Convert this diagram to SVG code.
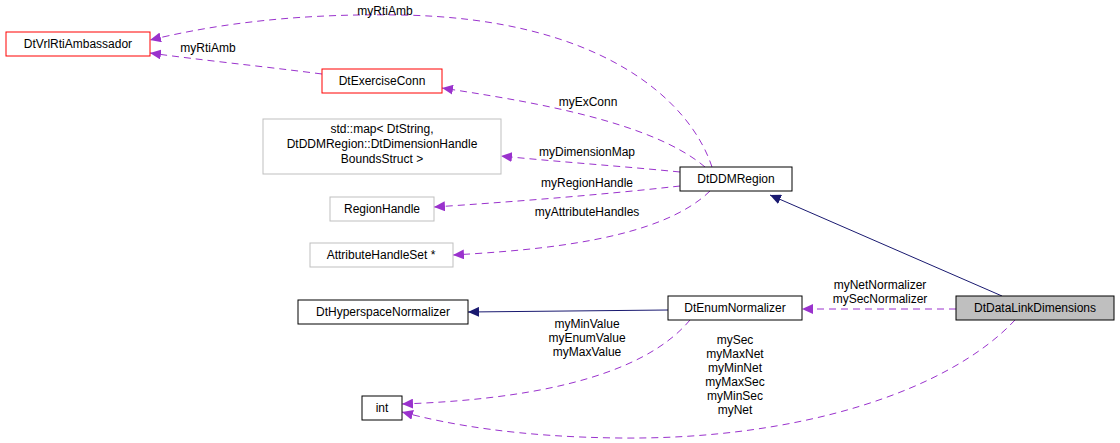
<svg xmlns="http://www.w3.org/2000/svg" width="1120" height="443" viewBox="0 0 1120 443">
<style>
text{font-family:"Liberation Sans",Arial,sans-serif;font-size:12px;fill:#000}
.n{fill:#fff;stroke:#000;stroke-width:1}
.r{fill:#fff;stroke:#f00;stroke-width:1}
.g{fill:#fff;stroke:#bfbfbf;stroke-width:1}
.d{fill:none;stroke:#9a32cd;stroke-width:1;stroke-dasharray:7,5}
.s{fill:none;stroke:#191970;stroke-width:1}
</style>
<defs>
<marker id="pa" markerWidth="12" markerHeight="10" refX="11" refY="5" orient="auto" markerUnits="userSpaceOnUse"><path d="M0,0 L11,5 L0,10 z" fill="#9a32cd"/></marker>
<marker id="na" markerWidth="12" markerHeight="10" refX="11" refY="5" orient="auto" markerUnits="userSpaceOnUse"><path d="M0,0 L11,5 L0,10 z" fill="#191970"/></marker>
</defs>
<rect width="1120" height="443" fill="#fff"/>
<g id="connectors">
<path class="s" d="M1002,296 L770,195" marker-end="url(#na)"/>
<path class="s" d="M668,310 L468,312" marker-end="url(#na)"/>
<path class="d" d="M712,167 C690,100 600,18 400,15 C280,13 200,28 150,40" marker-end="url(#pa)"/>
<path class="d" d="M322,74 C260,66 200,60 150,53" marker-end="url(#pa)"/>
<path class="d" d="M705,167 C650,120 520,100 442,88" marker-end="url(#pa)"/>
<path class="d" d="M680,172 C620,166 560,162 501,156" marker-end="url(#pa)"/>
<path class="d" d="M680,186 C600,195 510,202 434,207" marker-end="url(#pa)"/>
<path class="d" d="M710,191 C660,240 540,250 453,255" marker-end="url(#pa)"/>
<path class="d" d="M956,309 L802,309" marker-end="url(#pa)"/>
<path class="d" d="M690,320 C640,380 520,400 402,404" marker-end="url(#pa)"/>
<path class="d" d="M1015,320 C950,390 800,440 620,438 C520,437 450,425 402,412" marker-end="url(#pa)"/>
<text x="385" y="15" text-anchor="middle">myRtiAmb</text>
<text x="208" y="52" text-anchor="middle">myRtiAmb</text>
<text x="588" y="106" text-anchor="middle">myExConn</text>
<text x="587" y="156" text-anchor="middle">myDimensionMap</text>
<text x="587" y="187" text-anchor="middle">myRegionHandle</text>
<text x="587" y="216" text-anchor="middle">myAttributeHandles</text>
<text x="880" y="289" text-anchor="middle">myNetNormalizer</text>
<text x="880" y="303" text-anchor="middle">mySecNormalizer</text>
<text x="587" y="328" text-anchor="middle">myMinValue</text>
<text x="587" y="342" text-anchor="middle">myEnumValue</text>
<text x="587" y="356" text-anchor="middle">myMaxValue</text>
<text x="735" y="344" text-anchor="middle">mySec</text>
<text x="735" y="358" text-anchor="middle">myMaxNet</text>
<text x="735" y="372" text-anchor="middle">myMinNet</text>
<text x="735" y="386" text-anchor="middle">myMaxSec</text>
<text x="735" y="400" text-anchor="middle">myMinSec</text>
<text x="735" y="414" text-anchor="middle">myNet</text>
</g>
<g id="DtVrlRtiAmbassador"><rect class="r" x="6" y="32" width="144" height="24"/><text x="78" y="48" text-anchor="middle">DtVrlRtiAmbassador</text></g>
<g id="DtExerciseConn"><rect class="r" x="322" y="69" width="120" height="24"/><text x="382" y="85" text-anchor="middle">DtExerciseConn</text></g>
<g id="StdMap"><rect class="g" x="263" y="119" width="238" height="55"/><text x="382" y="133" text-anchor="middle">std::map&lt; DtString,</text><text x="382" y="148" text-anchor="middle">DtDDMRegion::DtDimensionHandle</text><text x="382" y="163" text-anchor="middle">BoundsStruct &gt;</text></g>
<g id="RegionHandle"><rect class="g" x="330" y="197" width="104" height="24"/><text x="382" y="213" text-anchor="middle">RegionHandle</text></g>
<g id="AttributeHandleSet"><rect class="g" x="310" y="243" width="143" height="24"/><text x="381" y="259" text-anchor="middle">AttributeHandleSet *</text></g>
<g id="DtDDMRegion"><rect class="n" x="680" y="167" width="112" height="24"/><text x="736" y="183" text-anchor="middle">DtDDMRegion</text></g>
<g id="DtHyperspaceNormalizer"><rect class="n" x="298" y="300" width="170" height="24"/><text x="383" y="316" text-anchor="middle">DtHyperspaceNormalizer</text></g>
<g id="DtEnumNormalizer"><rect class="n" x="668" y="296" width="134" height="24"/><text x="735" y="312" text-anchor="middle">DtEnumNormalizer</text></g>
<g id="DtDataLinkDimensions"><rect x="956" y="296" width="158" height="24" fill="#bfbfbf" stroke="#000"/><text x="1035" y="312" text-anchor="middle">DtDataLinkDimensions</text></g>
<g id="int"><rect class="n" x="362" y="396" width="40" height="24"/><text x="382" y="412" text-anchor="middle">int</text></g>
</svg>
